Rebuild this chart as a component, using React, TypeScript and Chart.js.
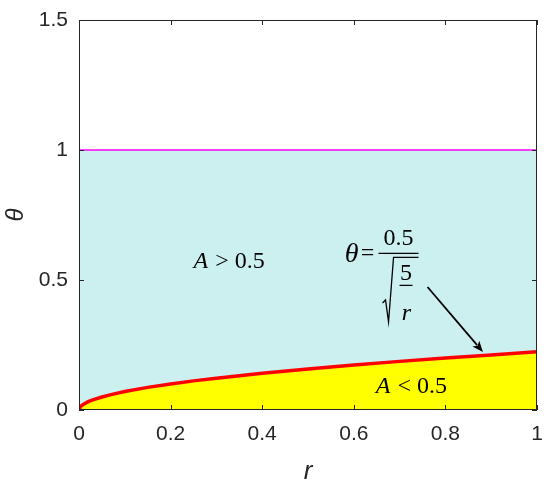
import React, { useEffect, useRef } from "react";
import { Chart, registerables } from "chart.js";

Chart.register(...registerables);

// Boundary curve (r, theta)
const rValues = [0, 0.002, 0.005, 0.01, 0.02, 0.03, 0.05, 0.07, 0.1, 0.15, 0.2, 0.25, 0.3, 0.4, 0.5, 0.6, 0.7, 0.8, 0.9, 1.0];
const thetaValues = [0, 0.01, 0.016, 0.022, 0.032, 0.039, 0.05, 0.059, 0.071, 0.087, 0.1, 0.112, 0.122, 0.141, 0.158, 0.173, 0.187, 0.2, 0.212, 0.224];

// Upper boundary (magenta line)
const upperR = [0, 1];
const upperTheta = [1, 1];

const xTicks = [0, 0.2, 0.4, 0.6, 0.8, 1];
const yTicks = [0, 0.5, 1, 1.5];

// Annotation anchors in data units
const labelUpper = { r: 0.25, theta: 0.546, text: "> 0.5" };
const labelLower = { r: 0.648, theta: 0.065, text: "< 0.5" };
const formulaAnchor = { r: 0.654, theta: 0.604 };
const arrowFrom = { r: 0.761, theta: 0.473 };
const arrowTo = { r: 0.882, theta: 0.223 };

const AXIS = "#262626";
const SANS = "'Liberation Sans', Arial, Helvetica, sans-serif";
const SERIF = "'Liberation Serif', 'Times New Roman', serif";

const overlay = {
  id: "overlay",
  afterDatasetsDraw(chart: any) {
    const { ctx, chartArea: a, scales } = chart;
    const xs = scales.x;
    const ys = scales.y;
    ctx.save();
    // box
    ctx.strokeStyle = AXIS;
    ctx.lineWidth = 1;
    ctx.strokeRect(a.left + 0.5, a.top + 0.5, a.right - a.left - 1, a.bottom - a.top - 1);
    // inward ticks
    const tl = 5;
    ctx.beginPath();
    xTicks.forEach((v) => {
      const px = Math.round(xs.getPixelForValue(v)) + 0.5;
      ctx.moveTo(px, a.bottom);
      ctx.lineTo(px, a.bottom - tl);
      ctx.moveTo(px, a.top);
      ctx.lineTo(px, a.top + tl);
    });
    yTicks.forEach((v) => {
      const py = Math.round(ys.getPixelForValue(v)) + 0.5;
      ctx.moveTo(a.left, py);
      ctx.lineTo(a.left + tl, py);
      ctx.moveTo(a.right, py);
      ctx.lineTo(a.right - tl, py);
    });
    ctx.stroke();

    ctx.fillStyle = "#000";
    ctx.strokeStyle = "#000";
    ctx.textBaseline = "alphabetic";
    ctx.textAlign = "left";

    const drawLabel = (lab: any) => {
      const x0 = xs.getPixelForValue(lab.r);
      const y0 = ys.getPixelForValue(lab.theta);
      ctx.font = `italic 24px ${SERIF}`;
      ctx.fillText("A", x0, y0);
      let x = x0 + ctx.measureText("A").width + 7;
      ctx.font = `24px ${SERIF}`;
      const [op, num] = lab.text.split(" ");
      ctx.fillText(op, x, y0);
      x += ctx.measureText(op).width + 6;
      ctx.fillText(num, x, y0);
    };
    drawLabel(labelUpper);
    drawLabel(labelLower);

    // formula
    const fx = xs.getPixelForValue(formulaAnchor.r);
    const fy = ys.getPixelForValue(formulaAnchor.theta);
    ctx.font = `italic 28px ${SERIF}`;
    ctx.textAlign = "right";
    ctx.fillText("θ", fx - 20, fy + 9);
    ctx.font = `24px ${SERIF}`;
    ctx.textAlign = "center";
    ctx.fillText("=", fx - 11, fy + 7);
    ctx.fillText("0.5", fx + 20, fy - 8);
    ctx.fillText("5", fx + 27.5, fy + 27);
    ctx.font = `italic 24px ${SERIF}`;
    ctx.fillText("r", fx + 28, fy + 67);
    ctx.lineWidth = 1.2;
    ctx.beginPath();
    ctx.moveTo(fx, fy + 0.5);
    ctx.lineTo(fx + 40, fy + 0.5);
    ctx.moveTo(fx + 21, fy + 32.5);
    ctx.lineTo(fx + 34, fy + 32.5);
    ctx.stroke();
    ctx.lineWidth = 1.3;
    ctx.beginPath();
    ctx.moveTo(fx + 4, fy + 50);
    ctx.lineTo(fx + 7, fy + 47);
    ctx.lineTo(fx + 10, fy + 69);
    ctx.lineTo(fx + 15, fy + 4.5);
    ctx.lineTo(fx + 40, fy + 4.5);
    ctx.stroke();

    // arrow
    const ax0 = xs.getPixelForValue(arrowFrom.r);
    const ay0 = ys.getPixelForValue(arrowFrom.theta);
    const ax1 = xs.getPixelForValue(arrowTo.r);
    const ay1 = ys.getPixelForValue(arrowTo.theta);
    const ang = Math.atan2(ay1 - ay0, ax1 - ax0);
    const hl = 11;
    const hw = 4.5;
    ctx.lineWidth = 1.8;
    ctx.beginPath();
    ctx.moveTo(ax0, ay0);
    ctx.lineTo(ax1 - Math.cos(ang) * (hl - 2), ay1 - Math.sin(ang) * (hl - 2));
    ctx.stroke();
    ctx.beginPath();
    ctx.moveTo(ax1, ay1);
    ctx.lineTo(
      ax1 - Math.cos(ang) * hl - Math.sin(ang) * hw,
      ay1 - Math.sin(ang) * hl + Math.cos(ang) * hw
    );
    ctx.lineTo(
      ax1 - Math.cos(ang) * hl * 0.75,
      ay1 - Math.sin(ang) * hl * 0.75
    );
    ctx.lineTo(
      ax1 - Math.cos(ang) * hl + Math.sin(ang) * hw,
      ay1 - Math.sin(ang) * hl - Math.cos(ang) * hw
    );
    ctx.closePath();
    ctx.fill();
    ctx.restore();
  },
};

export default function App() {
  const ref = useRef<HTMLCanvasElement | null>(null);
  useEffect(() => {
    document.body.style.margin = "0";
    const canvas = ref.current;
    if (!canvas) return;
    const curve = rValues.map((r, i) => ({ x: r, y: thetaValues[i] }));
    const upper = upperR.map((r, i) => ({ x: r, y: upperTheta[i] }));
    const chart = new Chart(canvas, {
      type: "scatter",
      data: {
        datasets: [
          {
            data: curve,
            showLine: true,
            borderColor: "#ff0000",
            borderWidth: 3.5,
            pointRadius: 0,
            fill: "origin",
            backgroundColor: "#ffff00",
            tension: 0,
          },
          {
            data: upper,
            showLine: true,
            borderColor: "#ff00ff",
            borderWidth: 1.5,
            pointRadius: 0,
            fill: "origin",
            backgroundColor: "#ccf0f0",
          },
        ],
      },
      options: {
        animation: false,
        responsive: false,
        devicePixelRatio: 1,
        layout: { padding: { top: 20, right: 13, left: 0, bottom: 0 } },
        plugins: { legend: { display: false }, tooltip: { enabled: false } },
        scales: {
          x: {
            type: "linear",
            min: 0,
            max: 1,
            afterBuildTicks: (s: any) => {
              s.ticks = xTicks.map((v) => ({ value: v }));
            },
            afterFit: (s: any) => {
              s.height = 85;
              s.paddingLeft = 0;
              s.paddingRight = 0;
            },
            grid: { display: false, drawTicks: false },
            border: { display: false },
            ticks: {
              padding: 12,
              color: AXIS,
              font: { family: SANS, size: 21 },
              maxRotation: 0,
              callback: (v: any) => String(v),
            },
            title: {
              display: true,
              text: "r",
              color: AXIS,
              font: { family: SANS, size: 26, style: "italic" },
              padding: { bottom: 8, top: 0 },
            },
          },
          y: {
            type: "linear",
            min: 0,
            max: 1.5,
            afterBuildTicks: (s: any) => {
              s.ticks = yTicks.map((v) => ({ value: v }));
            },
            afterFit: (s: any) => {
              s.width = 79;
              s.paddingTop = 0;
              s.paddingBottom = 0;
            },
            grid: { display: false, drawTicks: false },
            border: { display: false },
            ticks: {
              padding: 11,
              color: AXIS,
              font: { family: SANS, size: 21 },
              callback: (v: any) => String(v),
            },
            title: {
              display: true,
              text: "θ",
              color: AXIS,
              font: { family: SANS, size: 24, style: "italic" },
              padding: { top: 2, bottom: 0 },
            },
          },
        },
      },
      plugins: [overlay],
    });
    return () => chart.destroy();
  }, []);
  return (
    <div style={{ width: 550, height: 495 }}>
      <canvas ref={ref} width={550} height={495} />
    </div>
  );
}
